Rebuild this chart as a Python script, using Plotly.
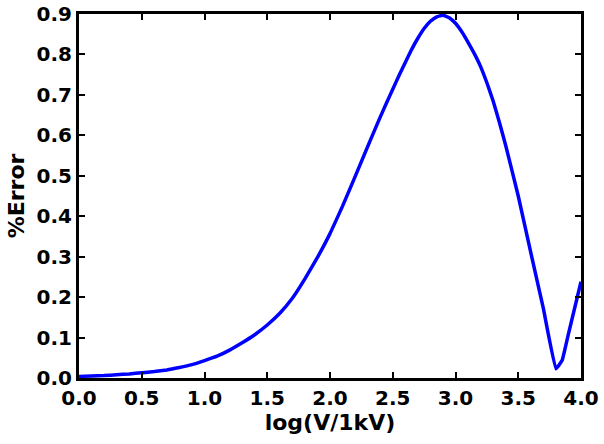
import plotly.graph_objects as go

log_v = [0.0, 0.1, 0.2, 0.3, 0.4, 0.5, 0.6, 0.7, 0.8, 0.9,
         1.0, 1.1, 1.2, 1.3, 1.4, 1.5, 1.6, 1.7, 1.8, 1.9,
         2.0, 2.1, 2.2, 2.3, 2.4, 2.45, 2.5, 2.55, 2.6, 2.65, 2.7, 2.75, 2.8, 2.85, 2.9, 2.95,
         3.0, 3.05, 3.1, 3.15, 3.2, 3.25, 3.3, 3.35, 3.4, 3.5, 3.6, 3.7, 3.8, 3.85, 3.9, 4.0]
pct_error = [0.004, 0.005, 0.006, 0.008, 0.010, 0.013, 0.016, 0.020, 0.026, 0.033,
             0.043, 0.054, 0.069, 0.087, 0.107, 0.131, 0.160, 0.197, 0.245, 0.298,
             0.357, 0.425, 0.498, 0.572, 0.645, 0.680, 0.714, 0.748, 0.780, 0.812, 0.840, 0.864, 0.882, 0.893, 0.897, 0.891,
             0.877, 0.856, 0.830, 0.802, 0.770, 0.730, 0.685, 0.632, 0.575, 0.450, 0.310, 0.172, 0.023, 0.044, 0.109, 0.238]

x_ticks = [0.0, 0.5, 1.0, 1.5, 2.0, 2.5, 3.0, 3.5, 4.0]
y_ticks = [0.0, 0.1, 0.2, 0.3, 0.4, 0.5, 0.6, 0.7, 0.8, 0.9]

tick_font = dict(family="DejaVu Sans", size=20, color="black", weight="bold")
title_font = dict(family="DejaVu Sans", size=22, color="black", weight="bold")

fig = go.Figure(go.Scatter(x=log_v, y=pct_error, mode="lines",
                           line=dict(color="#0000ff", width=3.5, shape="spline", smoothing=0.3)))

axis_common = dict(showline=True, linecolor="black", linewidth=3, mirror="ticks",
                   ticks="inside", ticklen=6, tickwidth=2, tickcolor="black",
                   showgrid=False, zeroline=False, tickfont=tick_font, automargin=False)

fig.update_xaxes(range=[0, 4], tickvals=x_ticks, ticktext=[f"{v:.1f}" for v in x_ticks],
                 title=dict(text="log(V/1kV)", font=title_font, standoff=2), **axis_common)
fig.update_yaxes(range=[0, 0.9], tickvals=y_ticks, ticktext=[f"{v:.1f}" for v in y_ticks],
                 title=dict(text="%Error", font=title_font, standoff=6), **axis_common)

fig.update_layout(width=604, height=444, margin=dict(l=79, r=23, t=14, b=66),
                  plot_bgcolor="white", paper_bgcolor="white", showlegend=False)

fig.write_html("out.html", config={"displayModeBar": False},
               post_script="document.body.style.margin='0';document.body.style.overflow='hidden';")
